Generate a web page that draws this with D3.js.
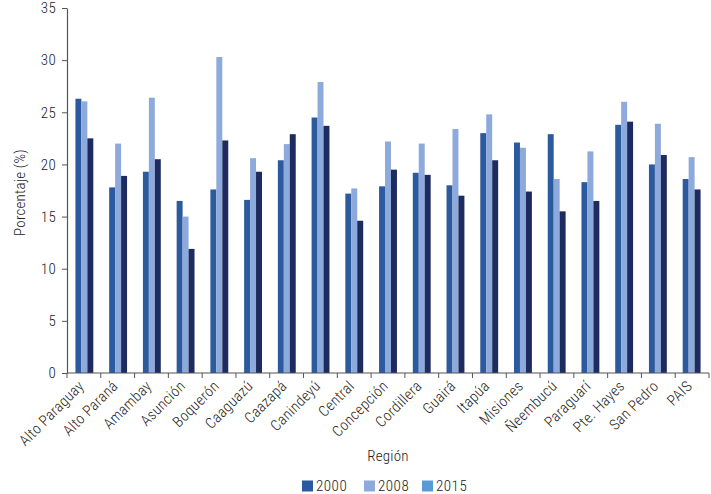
<!DOCTYPE html>
<html><head><meta charset="utf-8">
<script src="https://cdn.jsdelivr.net/npm/d3@7"></script>
<style>
body{margin:0;background:#fff;}
text{font-family:"Liberation Sans Narrow","Arial Narrow","Roboto Condensed",sans-serif;fill:#222;font-weight:300;}
</style></head><body>
<svg id="c" width="711" height="494"></svg>
<script>
const categories = ["Alto Paraguay","Alto Paraná","Amambay","Asunción","Boquerón","Caaguazú","Caazapá","Canindeyú","Central","Concepción","Cordillera","Guairá","Itapúa","Misiones","Ñeembucú","Paraguarí","Pte. Hayes","San Pedro","PAIS"];
const years = ["2000","2008","2015"];
const v2000 = [26.3,17.8,19.3,16.5,17.6,16.6,20.4,24.5,17.2,17.9,19.2,18.0,23.0,22.1,22.9,18.3,23.8,20.0,18.6];
const v2008 = [26.05,22.0,26.4,15.0,30.3,20.6,21.95,27.9,17.7,22.2,22.0,23.4,24.8,21.6,18.6,21.25,26.0,23.9,20.7];
const v2015 = [22.5,18.9,20.5,11.9,22.3,19.3,22.9,23.7,14.6,19.5,19.0,17.0,20.4,17.4,15.5,16.5,24.1,20.9,17.6];
const yTicks = [0,5,10,15,20,25,30,35];
const barColors = ["#2C5A9E","#8EAADC","#1E2B5F"];
const legendColors = ["#2C5A9E","#8EAADC","#5A9BD6"];
const series = [v2000, v2008, v2015];

const svg = d3.select("#c");
const L = 67, R = 709, T = 8, B = 373;
const xOuter = d3.scaleBand().domain(categories).range([L, R]).padding(0);
const x0 = d3.scaleBand().domain(categories).range([L, R]).paddingInner(0.47).paddingOuter(0.25);
const x1 = d3.scaleBand().domain(years).range([0, x0.bandwidth()]).padding(0);
const y = d3.scaleLinear().domain([0, 35]).range([B, T]);

// bars
categories.forEach((c, i) => {
  const g = svg.append("g").attr("transform", `translate(${x0(c)},0)`);
  years.forEach((yr, j) => {
    const v = series[j][i];
    g.append("rect").attr("x", x1(yr)).attr("y", y(v))
      .attr("width", x1.bandwidth()).attr("height", y(0) - y(v))
      .attr("fill", barColors[j]);
  });
});

// y axis
const ya = svg.append("g").attr("transform", `translate(${L},0)`)
  .call(d3.axisLeft(y).tickValues(yTicks).tickSize(5).tickPadding(6).tickSizeOuter(0));
ya.select(".domain").attr("stroke", "#555").attr("stroke-width", 1.2);
ya.selectAll(".tick line").attr("stroke", "#555");
ya.selectAll(".tick text").style("font-size", "15px").style("letter-spacing","0.3px").attr("fill", "#222");

// x axis
svg.append("line").attr("x1", L).attr("x2", R).attr("y1", B).attr("y2", B)
  .attr("stroke", "#555").attr("stroke-width", 1.2);
const bounds = categories.map(c => xOuter(c)).concat([R]);
svg.selectAll(".xt").data(bounds).enter().append("line")
  .attr("x1", d => d).attr("x2", d => d).attr("y1", B).attr("y2", B + 5)
  .attr("stroke", "#555");
svg.selectAll(".xl").data(categories).enter().append("text")
  .attr("transform", d => `translate(${xOuter(d) + xOuter.bandwidth()/2 + 1},${B + 14}) rotate(-45)`)
  .attr("text-anchor", "end")
  .style("font-size", "15px").style("letter-spacing","0.3px")
  .text(d => d);

// titles
svg.append("text").attr("transform", `translate(25,${(T+B)/2 + 2}) rotate(-90)`)
  .attr("text-anchor", "middle").style("font-size", "15px").style("letter-spacing","0.2px").text("Porcentaje (%)");
svg.append("text").attr("x", (L+R)/2).attr("y", 461)
  .attr("text-anchor", "middle").style("font-size", "15px").style("letter-spacing","0.2px").text("Región");

// legend
const lx = [302, 364, 422];
years.forEach((yr, j) => {
  svg.append("rect").attr("x", lx[j]).attr("y", 480.5).attr("width", 11).attr("height", 11).attr("fill", legendColors[j]);
  svg.append("text").attr("x", lx[j] + 14).attr("y", 491)
    .style("font-size", "15px").style("letter-spacing","0.5px").text(yr);
});
</script></body></html>
